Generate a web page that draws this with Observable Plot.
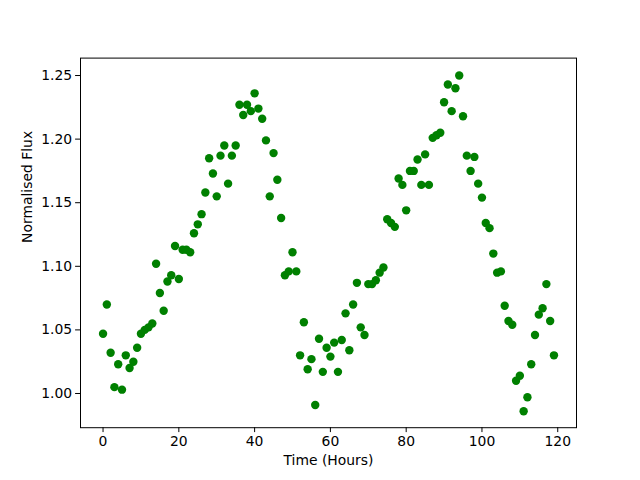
<!DOCTYPE html>
<html>
<head>
<meta charset="utf-8">
<script src="https://cdn.jsdelivr.net/npm/d3@7"></script>
<script src="https://cdn.jsdelivr.net/npm/@observablehq/plot@0.6"></script>
<style>
  html, body { margin: 0; padding: 0; background: #fff; }
</style>
</head>
<body>
<div id="chart"></div>
<script>
const hours = [0,1,2,3,4,5,6,7,8,9,10,11,12,13,14,15,16,17,18,19,20,21,22,23,24,25,26,27,28,29,
  30,31,32,33,34,35,36,37,38,39,40,41,42,43,44,45,46,47,48,49,50,51,52,53,54,55,56,57,58,59,
  60,61,62,63,64,65,66,67,68,69,70,71,72,73,74,75,76,77,78,79,80,81,82,83,84,85,86,87,88,89,
  90,91,92,93,94,95,96,97,98,99,100,101,102,103,104,105,106,107,108,109,110,111,112,113,114,115,116,117,118,119];
const flux = [1.047,1.070,1.032,1.005,1.023,1.003,1.030,1.020,1.025,1.036,
  1.047,1.050,1.052,1.055,1.102,1.079,1.065,1.088,1.093,1.116,
  1.090,1.113,1.113,1.111,1.126,1.133,1.141,1.158,1.185,1.173,
  1.155,1.187,1.195,1.165,1.187,1.195,1.227,1.219,1.227,1.222,
  1.236,1.224,1.216,1.199,1.155,1.189,1.168,1.138,1.093,1.096,
  1.111,1.096,1.030,1.056,1.019,1.027,0.991,1.043,1.017,1.036,
  1.029,1.040,1.017,1.042,1.063,1.034,1.070,1.087,1.052,1.046,
  1.086,1.086,1.089,1.095,1.099,1.137,1.134,1.131,1.169,1.164,
  1.144,1.175,1.175,1.184,1.164,1.188,1.164,1.201,1.203,1.205,
  1.229,1.243,1.222,1.240,1.250,1.218,1.187,1.175,1.186,1.165,
  1.154,1.134,1.130,1.110,1.095,1.096,1.069,1.057,1.054,1.010,
  1.014,0.986,0.997,1.023,1.046,1.062,1.067,1.086,1.057,1.030];
const xTicks = [0,20,40,60,80,100,120];
const yTicks = [1.00,1.05,1.10,1.15,1.20,1.25];
const xLabel = "Time (Hours)";
const yLabel = "Normalised Flux";

const data = hours.map((h, i) => ({h, f: flux[i]}));

const chart = Plot.plot({
  width: 640,
  height: 480,
  marginLeft: 80,
  marginRight: 64,
  marginTop: 57.6,
  marginBottom: 52.8,
  style: {fontFamily: "DejaVu Sans", fontSize: "13.9px", color: "#000", background: "#fff"},
  x: {domain: [-5.95, 124.95]},
  y: {domain: [0.9731, 1.2637]},
  marks: [
    Plot.dot(data, {x: "h", y: "f", r: 4.2, fill: "#008000", stroke: "none"}),
    Plot.frame({stroke: "#000", strokeWidth: 1}),
    Plot.axisX({ticks: xTicks, tickSize: 4.9, tickPadding: 3.5, label: null, tickFormat: d => String(d), stroke: "#000"}),
    Plot.axisY({ticks: yTicks, tickSize: 4.9, tickPadding: 3.5, label: null, tickFormat: d => d.toFixed(2), stroke: "#000"}),
    Plot.text([xLabel], {frameAnchor: "bottom", dy: 37, text: d => d, fill: "#000", fontSize: 13.9}),
    Plot.text([yLabel], {frameAnchor: "left", dx: -53, rotate: -90, text: d => d, fill: "#000", fontSize: 13.9})
  ]
});
document.getElementById("chart").appendChild(chart);
</script>
</body>
</html>
